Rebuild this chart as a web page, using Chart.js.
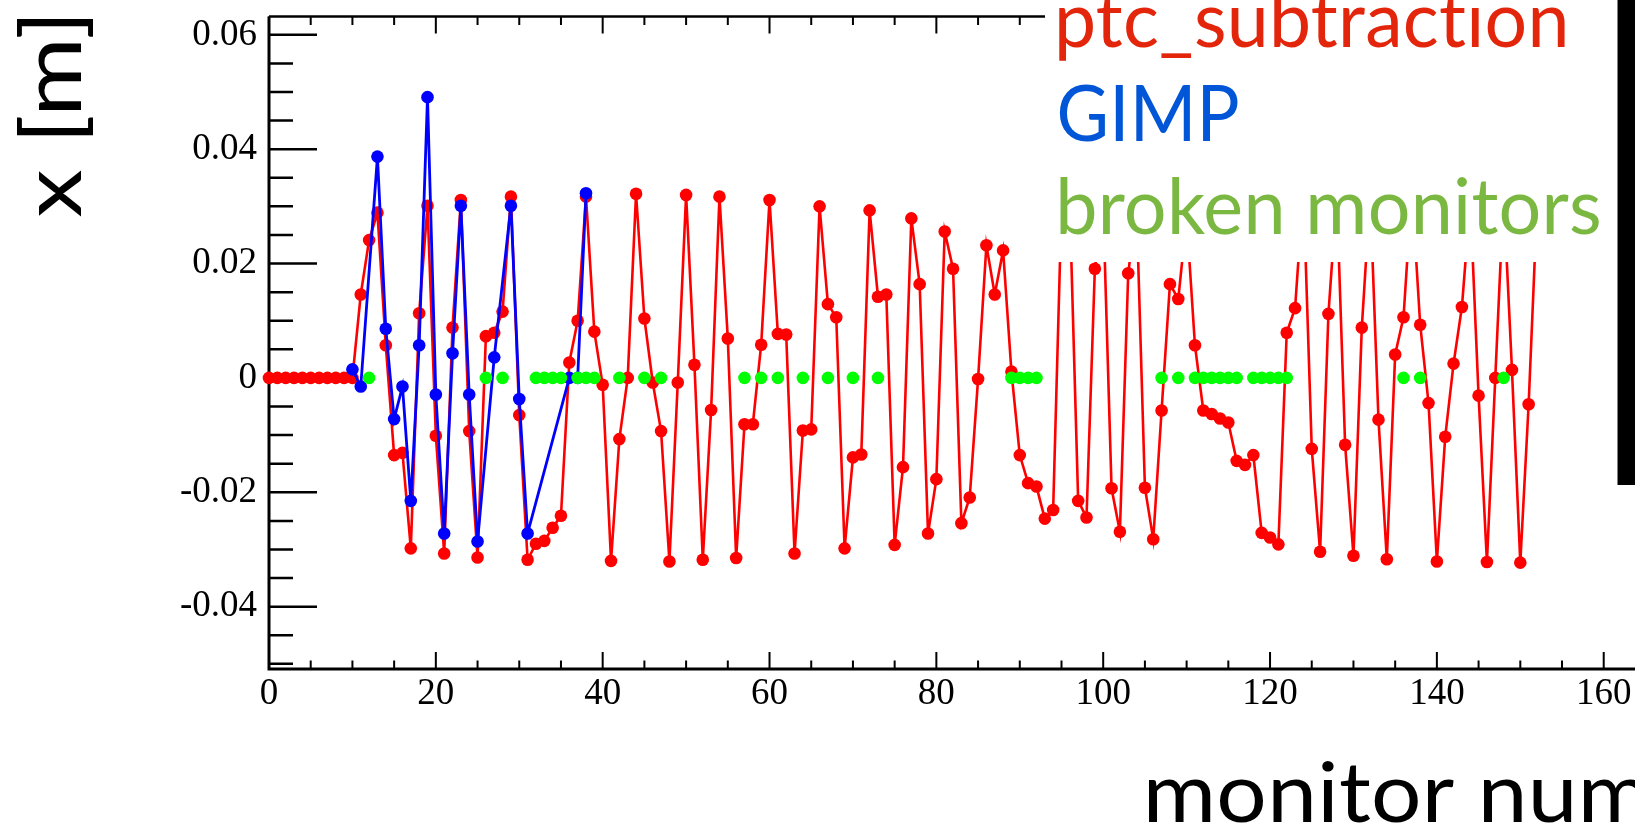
<!DOCTYPE html>
<html>
<head>
<meta charset="utf-8">
<title>Orbit at monitors</title>
<script src="https://cdn.jsdelivr.net/npm/chart.js@4/dist/chart.umd.min.js"></script>
<style>
  html, body { margin: 0; padding: 0; background: #fff; overflow: hidden; }
  #wrap { position: relative; width: 1635px; height: 832px; }
  canvas { display: block; }
</style>
</head>
<body>
<div id="wrap"><canvas id="orbit" width="1635" height="832"></canvas></div>
<script>
// Horizontal orbit x [m] per monitor, one value per monitor starting at monitor 0
const ptcValues = [
  0, 0, 0, 0, 0, 0, 0, 0, 0, 0, 0,
  0.0146, 0.0241, 0.0289, 0.0057, -0.0135, -0.0131, -0.0298, 0.0113, 0.0301, -0.0101,
  -0.0307, 0.0088, 0.0311, -0.0093, -0.0314, 0.0073, 0.0079, 0.0116, 0.0317, -0.0065,
  -0.0318, -0.0290, -0.0285, -0.0262, -0.0241, 0.0027, 0.0100, 0.0317, 0.0081, -0.0012,
  -0.0320, -0.0107, 0.0000, 0.0322, 0.0104, -0.0008, -0.0093, -0.0321, -0.0008, 0.0320,
  0.0023, -0.0318, -0.0056, 0.0317, 0.0069, -0.0315, -0.0081, -0.0081, 0.0058, 0.0311,
  0.0077, 0.0076, -0.0307, -0.0092, -0.0090, 0.0300, 0.0129, 0.0106, -0.0298, -0.0139,
  -0.0134, 0.0293, 0.0142, 0.0146, -0.0292, -0.0156, 0.0279, 0.0164, -0.0272, -0.0177,
  0.0256, 0.0191, -0.0254, -0.0209, -0.0002, 0.0232, 0.0146, 0.0223, 0.0011, -0.0135,
  -0.0184, -0.0190, -0.0246, -0.0231, 0.0300, 0.0300, -0.0215, -0.0244, 0.0191, 0.0300,
  -0.0193, -0.0269, 0.0183, 0.0300, -0.0192, -0.0282, -0.0057, 0.0164, 0.0138, 0.0280,
  0.0057, -0.0057, -0.0063, -0.0071, -0.0078, -0.0145, -0.0152, -0.0135, -0.0271, -0.0279,
  -0.0291, 0.0079, 0.0122, 0.0330, -0.0124, -0.0304, 0.0112, 0.0320, -0.0117, -0.0311,
  0.0088, 0.0320, -0.0073, -0.0317, 0.0041, 0.0106, 0.0330, 0.0093, -0.0044, -0.0321,
  -0.0103, 0.0025, 0.0124, 0.0310, -0.0031, -0.0322, 0.0000, 0.0320, 0.0014, -0.0323,
  -0.0046, 0.0300
];

// GIMP reconstruction, only at the monitors it was run on
const gimpMonitors = [10, 11, 13, 14, 15, 16, 17, 18, 19, 20, 21, 22, 23, 24, 25, 27, 29, 30, 31, 36, 37, 38];
const gimpValues = [
  0.0015, -0.0015, 0.0387, 0.0086, -0.0072, -0.0015, -0.0215, 0.0057, 0.0491, -0.0029,
  -0.0272, 0.0043, 0.0301, -0.0029, -0.0286, 0.0036, 0.0301, -0.0037, -0.0272, 0.0000,
  0.0000, 0.0323
];

// Monitors flagged as broken, marked on the zero line
const brokenMonitors = [
  12, 26, 28, 32, 33, 34, 35, 37, 38, 39, 42, 45, 47, 57, 59, 61, 64, 67, 70, 73,
  89, 90, 91, 92, 107, 109, 111, 112, 113, 114, 115, 116, 118, 119, 120, 121, 122,
  136, 138, 148
];
const brokenValues = brokenMonitors.map(() => 0);

// Axis tick values and their labels
const xTickValues = [0, 20, 40, 60, 80, 100, 120, 140, 160];
const xTickLabels = ['0', '20', '40', '60', '80', '100', '120', '140', '160'];
const yTickValues = [-0.04, -0.02, 0, 0.02, 0.04, 0.06];
const yTickLabels = ['-0.04', '-0.02', '0', '0.02', '0.04', '0.06'];

const legendColors = ['#e3260b', '#0056d6', '#7bb842'];

const ptcPoints = ptcValues.map((v, i) => ({ x: i, y: v }));
const gimpPoints = gimpMonitors.map((m, i) => ({ x: m, y: gimpValues[i] }));
const brokenPoints = brokenMonitors.map((m, i) => ({ x: m, y: brokenValues[i] }));

// Draw a string so that the glyphs of `fitPart` span exactly `width` pixels
function drawFitted(ctx, text, fitPart, left, baseline, width, font, color) {
  ctx.save();
  ctx.font = font;
  if ('letterSpacing' in ctx) ctx.letterSpacing = '0.3px'; // keeps "ti" as two letters
  const m = ctx.measureText(fitPart);
  const glyphW = m.actualBoundingBoxLeft + m.actualBoundingBoxRight;
  const s = width / glyphW;
  ctx.translate(left, baseline);
  ctx.scale(s, 1);
  ctx.fillStyle = color;
  ctx.textAlign = 'left';
  ctx.textBaseline = 'alphabetic';
  ctx.fillText(text, m.actualBoundingBoxLeft, 0);
  ctx.restore();
}

// Frame with inward major/minor ticks on left, bottom and top
const axisFrame = {
  id: 'axisFrame',
  beforeDatasetsDraw(chart) {
    const { ctx, chartArea: a, scales: { x, y } } = chart;
    ctx.save();
    ctx.strokeStyle = '#000';
    ctx.lineCap = 'butt';

    ctx.lineWidth = 3;
    ctx.beginPath();
    ctx.moveTo(a.left, a.top);
    ctx.lineTo(a.left, a.bottom);
    ctx.lineTo(a.right, a.bottom);
    ctx.stroke();
    ctx.lineWidth = 2.5;
    ctx.beginPath();
    ctx.moveTo(a.left, a.top);
    ctx.lineTo(a.right, a.top);
    ctx.stroke();

    // y axis: minor every 0.005, major every 0.02
    ctx.lineWidth = 2.5;
    ctx.beginPath();
    for (let i = -10; i <= 12; i++) {
      const py = y.getPixelForValue(i * 0.005);
      if (py < a.top - 0.5 || py > a.bottom + 0.5) continue;
      const len = (i % 4 === 0) ? 48 : 24;
      ctx.moveTo(a.left, py);
      ctx.lineTo(a.left + len, py);
    }
    ctx.stroke();

    // x axis (bottom and top): minor every 5, major every 20
    ctx.lineWidth = 2;
    ctx.beginPath();
    for (let i = 0; i <= 32; i++) {
      const px = x.getPixelForValue(i * 5);
      if (px > a.right) continue;
      const len = (i % 4 === 0) ? 17 : 8.5;
      ctx.moveTo(px, a.bottom);
      ctx.lineTo(px, a.bottom - len);
      ctx.moveTo(px, a.top);
      ctx.lineTo(px, a.top + len);
    }
    ctx.stroke();
    ctx.restore();
  }
};

// Legend panel, axis titles and the dark edge strip
const overlay = {
  id: 'overlay',
  afterDraw(chart) {
    const ctx = chart.ctx;
    ctx.save();
    ctx.fillStyle = '#fff';
    ctx.fillRect(1045, 0, 590, 262);

    const legendFont = '78px Lato, "Open Sans", sans-serif';
    const ds = chart.data.datasets;
    drawFitted(ctx, ds[0].label, ds[0].label, 1058.7, 46.8, 506.4, legendFont, legendColors[0]);
    drawFitted(ctx, ds[1].label, ds[1].label, 1059.3, 141, 178.7, legendFont, legendColors[1]);
    drawFitted(ctx, ds[2].label, ds[2].label, 1060, 234, 539, legendFont, legendColors[2]);

    const titleFont = '84px Lato, "Open Sans", sans-serif';
    drawFitted(ctx, 'monitor number', 'monitor', 1148, 821.7, 305.6, titleFont, '#000');

    ctx.save();
    ctx.translate(81, 217.4);
    ctx.rotate(-Math.PI / 2);
    drawFitted(ctx, 'x [m]', 'x [m]', 0, 0, 199.5, titleFont, '#000');
    ctx.restore();

    ctx.fillStyle = '#000';
    ctx.fillRect(1617.5, 0, 17.5, 485);
    ctx.restore();
  }
};

const tickFont = { family: '"Liberation Serif", "Times New Roman", serif', size: 37 };

new Chart(document.getElementById('orbit').getContext('2d'), {
  type: 'line',
  data: {
    datasets: [
      {
        label: 'ptc_subtraction',
        data: ptcPoints,
        borderColor: '#ff0000',
        backgroundColor: '#ff0000',
        borderWidth: 2.6,
        pointRadius: 6.3,
        pointBorderWidth: 0,
        tension: 0,
        clip: false,
        order: 3
      },
      {
        label: 'GIMP',
        data: gimpPoints,
        borderColor: '#0000ff',
        backgroundColor: '#0000ff',
        borderWidth: 2.8,
        pointRadius: 6.3,
        pointBorderWidth: 0,
        tension: 0,
        clip: false,
        order: 2
      },
      {
        label: 'broken monitors',
        data: brokenPoints,
        showLine: false,
        borderColor: '#00ff00',
        backgroundColor: '#00ff00',
        pointRadius: 6.3,
        pointBorderWidth: 0,
        clip: false,
        order: 1
      }
    ]
  },
  options: {
    responsive: false,
    animation: false,
    devicePixelRatio: 1,
    layout: { autoPadding: false, padding: { top: 16.5, right: 0, left: 0, bottom: 0 } },
    plugins: { legend: { display: false }, tooltip: { enabled: false } },
    scales: {
      x: {
        type: 'linear',
        min: 0,
        max: 163.75,
        afterBuildTicks: (s) => { s.ticks = xTickValues.map(v => ({ value: v })); },
        afterFit: (s) => { s.height = 163; s.paddingLeft = 0; s.paddingRight = 0; },
        grid: { display: false, drawTicks: false },
        border: { display: false },
        ticks: {
          autoSkip: false,
          maxRotation: 0,
          padding: 3,
          color: '#000',
          font: tickFont,
          callback: (v) => xTickLabels[xTickValues.indexOf(v)]
        }
      },
      y: {
        type: 'linear',
        min: -0.0509,
        max: 0.0632,
        afterBuildTicks: (s) => { s.ticks = yTickValues.map(v => ({ value: v })); },
        afterFit: (s) => { s.width = 269; s.paddingTop = 0; s.paddingBottom = 0; },
        grid: { display: false, drawTicks: false },
        border: { display: false },
        ticks: {
          autoSkip: false,
          padding: 12,
          color: '#000',
          font: tickFont,
          callback: (v) => {
            const k = yTickValues.findIndex(t => Math.abs(t - v) < 1e-9);
            return k >= 0 ? yTickLabels[k] : '';
          }
        }
      }
    }
  },
  plugins: [axisFrame, overlay]
});
</script>
</body>
</html>
